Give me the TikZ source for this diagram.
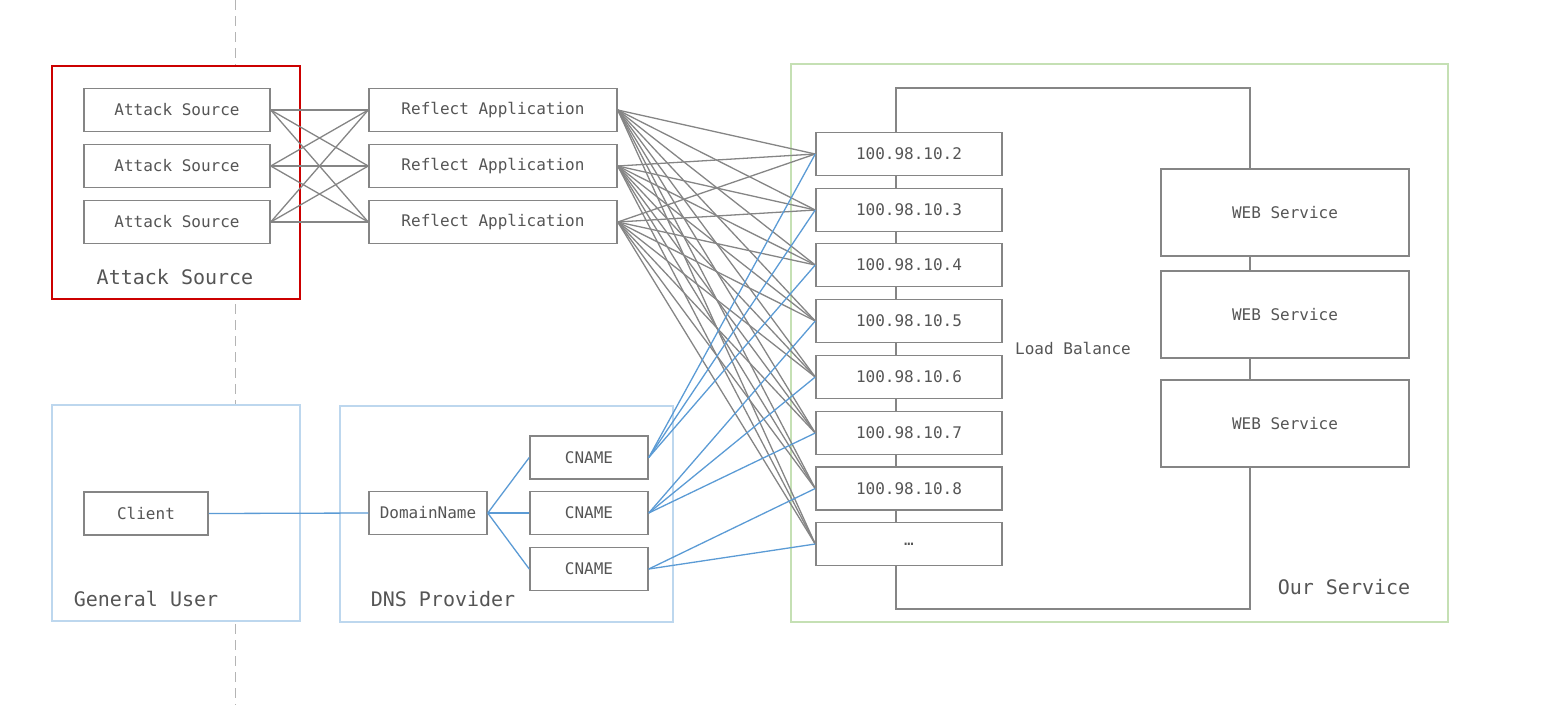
\documentclass[tikz,border=0pt]{standalone}
\usepackage{fontspec}
\setmonofont{DejaVu Sans Mono}
\definecolor{boxgray}{HTML}{858585}
\definecolor{txtgray}{HTML}{555555}
\definecolor{redc}{HTML}{CC0000}
\definecolor{lblue}{HTML}{BDD7EE}
\definecolor{lgreen}{HTML}{C5E0B4}
\definecolor{lineblue}{HTML}{5B9BD5}
\definecolor{dashgray}{HTML}{B4B4B4}
\tikzset{
  box/.style={draw=boxgray, line width=1.5pt, fill=white, inner sep=0pt,
    minimum height=43pt, text=txtgray, font=\ttfamily\fontsize{16}{16}\selectfont},
  wbox/.style={box, minimum width=186pt},
  lbox/.style={box, minimum width=248pt},
  sbox/.style={box, minimum width=118pt},
  webbox/.style={box, minimum width=248pt, minimum height=87pt},
  grp/.style={line width=1.5pt, fill=white},
  grplabel/.style={text=txtgray, font=\ttfamily\fontsize{20}{20}\selectfont, inner sep=0pt},
  gline/.style={draw=boxgray, line width=1.3pt},
  bline/.style={draw=lineblue, line width=1.3pt},
}
\begin{document}
\begin{tikzpicture}[x=1pt,y=-1pt]
\useasboundingbox (0,0) rectangle (1541,705);
% dashed separator
\draw[dashgray, line width=1pt, dash pattern=on 10pt off 6pt] (235,0) -- (235,705);
% groups
\draw[grp, draw=redc] (52,66) rectangle (300,299);
\draw[grp, draw=lblue] (52,405) rectangle (300,621);
\draw[grp, draw=lblue] (340,406) rectangle (673,622);
\draw[grp, draw=lgreen] (791,64) rectangle (1448,622);
% load balance loop
\draw[draw=boxgray, line width=1.5pt] (896,88) rectangle (1250,609);
% group labels
\node[grplabel] (lblattack) at (175,277) {Attack Source};
\node[grplabel] (lbluser) at (146,599) {General User};
\node[grplabel] (lbldns) at (443,599) {DNS Provider};
\node[grplabel] (lblour) at (1344,587) {Our Service};
\node[text=txtgray, font=\ttfamily\fontsize{16}{16}\selectfont, inner sep=0pt] (lbllb) at (1073,348) {Load Balance};
% coordinates for boxes
\coordinate (pa1) at (177,110);
\coordinate (pa2) at (177,166);
\coordinate (pa3) at (177,222);
% attack sources
\node[wbox] (a1) at (177,110) {Attack Source};
\node[wbox] (a2) at (177,166) {Attack Source};
\node[wbox] (a3) at (177,222) {Attack Source};
% reflect apps
\node[lbox] (r1) at (493,110) {Reflect Application};
\node[lbox] (r2) at (493,166) {Reflect Application};
\node[lbox] (r3) at (493,222) {Reflect Application};
% IPs
\node[wbox] (ip1) at (909,154) {100.98.10.2};
\node[wbox] (ip2) at (909,210) {100.98.10.3};
\node[wbox] (ip3) at (909,265) {100.98.10.4};
\node[wbox] (ip4) at (909,321) {100.98.10.5};
\node[wbox] (ip5) at (909,377) {100.98.10.6};
\node[wbox] (ip6) at (909,433) {100.98.10.7};
\node[wbox] (ip7) at (909,488.5) {100.98.10.8};
\node[wbox] (ip8) at (909,544) {…};
% web services
\node[webbox] (w1) at (1285,212.5) {WEB Service};
\node[webbox] (w2) at (1285,314.5) {WEB Service};
\node[webbox] (w3) at (1285,423.5) {WEB Service};
% client / dns
\node[box, minimum width=124pt] (client) at (146,513.5) {Client};
\node[sbox] (dn) at (428,513) {DomainName};
\node[sbox] (c1) at (589,457.5) {CNAME};
\node[sbox] (c2) at (589,513) {CNAME};
\node[sbox] (c3) at (589,569) {CNAME};
% connectors attack -> reflect
\foreach \i in {1,2,3}{\foreach \j in {1,2,3}{\draw[gline] (a\i.east) -- (r\j.west);}}
% reflect -> IPs
\foreach \i in {1,2,3}{\foreach \j in {1,...,8}{\draw[gline] (r\i.east) -- (ip\j.west);}}
% client chain
\draw[bline] (client.east) -- (dn.west);
\foreach \j in {1,2,3}{\draw[bline] (dn.east) -- (c\j.west);}
\foreach \j in {1,2,3}{\draw[bline] (c1.east) -- (ip\j.west);}
\foreach \j in {4,5,6}{\draw[bline] (c2.east) -- (ip\j.west);}
\foreach \j in {7,8}{\draw[bline] (c3.east) -- (ip\j.west);}
\end{tikzpicture}
\end{document}
